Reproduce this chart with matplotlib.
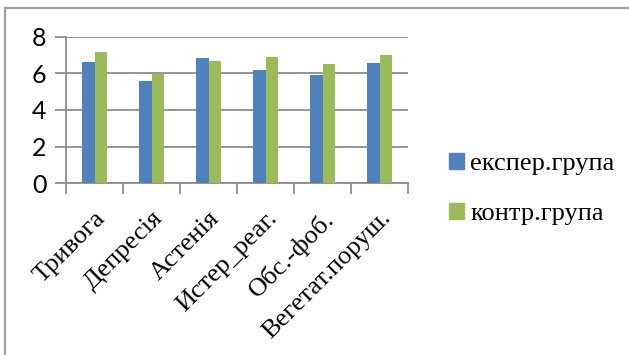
import matplotlib.pyplot as plt
from matplotlib.lines import Line2D
from matplotlib.patches import Patch
import numpy as np

categories = ['Тривога', 'Депресія', 'Астенія', 'Истер_реаг.', 'Обс.-фоб.', 'Вегетат.поруш.']
exper = [6.64, 5.60, 6.85, 6.20, 5.93, 6.58]
kontr = [7.18, 5.98, 6.67, 6.89, 6.51, 7.02]
series_names = ['експер.група', 'контр.група']

blue = '#4F81BD'
green = '#9BBB59'
grid_col = '#8C8C8C'

fig = plt.figure(figsize=(6.29, 3.55), dpi=100)
ax = fig.add_axes([0.105, 0.4837, 0.544, 0.4129])

x = np.arange(len(categories))
w = 0.222
ax.bar(x - w / 2, exper, w, color=blue, zorder=3)
ax.bar(x + w / 2, kontr, w, color=green, zorder=3)

ax.set_xlim(-0.5, len(categories) - 0.5)
ax.set_ylim(0, 8)
ax.set_yticks([0, 2, 4, 6, 8])
ax.yaxis.grid(True, color=grid_col, linewidth=1.3, zorder=0)

for s in ['top', 'right']:
    ax.spines[s].set_visible(False)
ax.spines['left'].set_color(grid_col)
ax.spines['bottom'].set_color(grid_col)
ax.spines['left'].set_linewidth(1.3)
ax.spines['bottom'].set_linewidth(1.3)

# category labels on major ticks, tick marks on boundaries
ax.set_xticks(x)
ax.set_xticklabels(categories, rotation=45, ha='right', rotation_mode='anchor',
                   family='Liberation Serif', fontsize=19)
ax.tick_params(axis='x', which='major', length=0, pad=17)
ax.set_xticks(np.arange(-0.5, len(categories)), minor=True)
ax.tick_params(axis='x', which='minor', length=8, color=grid_col, width=1.3)
ax.tick_params(axis='y', length=8, color=grid_col, width=1.3, pad=6)
for lab in ax.get_yticklabels():
    lab.set_family('Lato')
    lab.set_fontsize(18)

handles = [Patch(color=blue), Patch(color=green)]
fig.legend(handles, series_names, loc='center left', bbox_to_anchor=(0.714, 0.468),
           frameon=False, borderpad=0, borderaxespad=0,
           handlelength=0.55, handleheight=0.55, handletextpad=0.25,
           labelspacing=1.05, prop={'family': 'Liberation Serif', 'size': 19})

# outer chart border (only left and top visible)
bx = 5 / 629
by = 1 - 8 / 355
fig.add_artist(Line2D([bx, bx], [0, by], color='#A0A0A0', linewidth=1.6, transform=fig.transFigure))
fig.add_artist(Line2D([bx, 1], [by, by], color='#A0A0A0', linewidth=1.6, transform=fig.transFigure))

fig.savefig('out.png', dpi=100)
